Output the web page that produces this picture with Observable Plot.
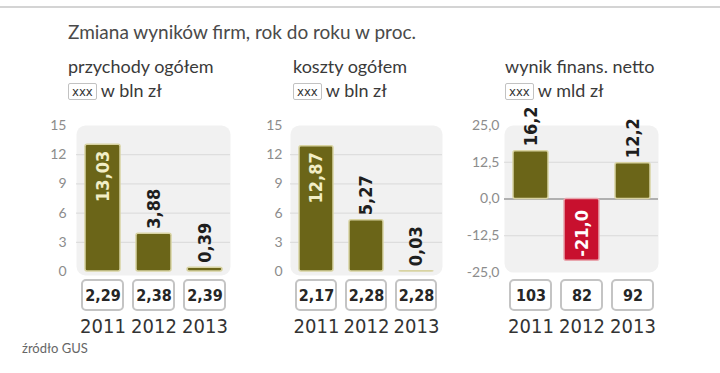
<!DOCTYPE html>
<html><head><meta charset="utf-8">
<script src="https://cdn.jsdelivr.net/npm/d3@7"></script>
<script src="https://cdn.jsdelivr.net/npm/@observablehq/plot@0.6"></script>
<style>
html,body{margin:0;padding:0;background:#fff;}
body{width:720px;height:373px;position:relative;overflow:hidden;font-family:Lato,"Open Sans",sans-serif;}
#topline{position:absolute;left:0;top:6px;width:720px;height:2px;background:#d4d4d4;}
#title{position:absolute;left:68px;top:22px;font-size:19px;line-height:19px;color:#4a4a4a;white-space:nowrap;}
.head{position:absolute;top:54px;font-size:18px;line-height:24px;color:#3a3a3a;white-space:nowrap;}
.xxx{display:inline-block;font-family:"DejaVu Sans Condensed","DejaVu Sans",sans-serif;font-size:13px;line-height:15px;border:1.5px solid #c2c2c2;border-radius:2px;padding:0 3px;margin-right:4px;vertical-align:1px;color:#333;}
.panel{position:absolute;top:95px;}
#source{position:absolute;left:22px;top:342px;font-size:13px;line-height:13px;color:#666;white-space:nowrap;}
</style></head><body>
<div id="topline"></div>
<div id="title"></div>
<div id="heads"></div>
<div id="p0" class="panel"></div>
<div id="p1" class="panel"></div>
<div id="p2" class="panel"></div>
<div id="source"></div>
<script>
// ---- data ----
const chartTitle = "Zmiana wyników firm, rok do roku w proc.";
const sourceText = "źródło GUS";
const years = ["2011", "2012", "2013"];
const panelTitles = ["przychody ogółem", "koszty ogółem", "wynik finans. netto"];
const panelUnits = ["w bln zł", "w bln zł", "w mld zł"];
const revenueChange = [13.03, 3.88, 0.39];   // % r/r
const revenueTotal = [2.29, 2.38, 2.39];     // bln zł
const costChange = [12.87, 5.27, 0.03];      // % r/r
const costTotal = [2.17, 2.28, 2.28];        // bln zł
const netChange = [16.2, -21.0, 12.2];       // % r/r
const netTotal = [103, 82, 92];              // mld zł
const ticksPct = [0, 3, 6, 9, 12, 15];
const ticksNet = [-25, -12.5, 0, 12.5, 25];

// ---- helpers ----
const comma = (s) => s.replace(".", ",").replace("−", "-");
const f2 = (v) => comma(v.toFixed(2));
const f1 = (v) => comma(v.toFixed(1));
const f0 = (v) => String(v);

document.getElementById("title").textContent = chartTitle;
document.getElementById("source").textContent = sourceText;

const headLeft = [68, 293, 505];
const heads = document.getElementById("heads");
panelTitles.forEach((t, i) => {
  const d = document.createElement("div");
  d.className = "head";
  d.style.left = headLeft[i] + "px";
  d.appendChild(document.createTextNode(t));
  d.appendChild(document.createElement("br"));
  const s = document.createElement("span");
  s.className = "xxx"; s.textContent = "xxx";
  d.appendChild(s);
  d.appendChild(document.createTextNode(panelUnits[i]));
  heads.appendChild(d);
});

const OLIVE = "#6b6518", RED = "#c8102e";
const condensed = "'DejaVu Sans Condensed','Liberation Sans Narrow','DejaVu Sans',sans-serif";

function panel(el, cfg) {
  const data = years.map((year, i) => ({year, value: cfg.values[i], total: cfg.totals[i]}));
  const [lo, hi] = cfg.domain;
  const H = 250, mt = 30, mb = cfg.mb;
  const plotH = H - mt - mb;
  const pxPerUnit = plotH / (hi - lo);
  const inside = (d) => Math.abs(d.value) * pxPerUnit > 55;
  const gridVals = cfg.ticks.filter(t => t !== lo && t !== hi && t !== 0);
  const marks = [
    Plot.frame({fill: "#f1f1f1", stroke: null, rx: 9, insetBottom: cfg.bgExtend}),
    Plot.ruleY(gridVals, {stroke: "#d9d9d9", strokeWidth: 1}),
  ];
  if (lo < 0) marks.push(Plot.ruleY([0], {stroke: "#9a9a9a", strokeWidth: 1.5}));
  marks.push(
    Plot.barY(data, {
      x: "year", y: "value",
      fill: d => d.value < 0 ? RED : OLIVE,
      stroke: d => d.value < 0 ? "#e8a6ae" : "#d8d3a2",
      strokeWidth: 1.5, insetLeft: 8, insetRight: 8, rx: 2
    }),
    Plot.text(data.filter(d => !inside(d)), {
      x: "year", y: "value", text: d => cfg.fmt(d.value),
      rotate: -90, textAnchor: "start", dy: -5,
      fill: "#1e1e1e", fontWeight: "bold", fontSize: 18, fontFamily: condensed
    }),
    Plot.text(data.filter(d => inside(d) && d.value >= 0), {
      x: "year", y: "value", text: d => cfg.fmt(d.value),
      rotate: -90, textAnchor: "end", dy: 6,
      fill: "#f2eec6", fontWeight: "bold", fontSize: 18, fontFamily: condensed
    }),
    Plot.text(data.filter(d => inside(d) && d.value < 0), {
      x: "year", y: "value", text: d => cfg.fmt(d.value),
      rotate: -90, textAnchor: "start", dy: -4,
      fill: "#ffffff", fontWeight: "bold", fontSize: 18, fontFamily: condensed
    }),
    Plot.rect(data, {
      x: "year", y1: () => lo, y2: () => lo,
      insetBottom: -30, insetLeft: 5, insetRight: 5, dy: cfg.boxDy,
      fill: "#ffffff", stroke: "#c4c4c4", strokeWidth: 2, rx: 4
    }),
    Plot.text(data, {
      x: "year", y: () => lo, text: d => cfg.totalFmt(d.total),
      dy: cfg.boxDy + 15, lineAnchor: "middle",
      fill: "#262626", fontSize: 16, fontWeight: "bold", fontFamily: condensed
    }),
    Plot.text(data, {
      x: "year", y: () => lo, text: "year",
      dy: cfg.boxDy + 46, lineAnchor: "middle",
      fill: "#333333", fontSize: 20, fontFamily: condensed
    })
  );
  const chart = Plot.plot({
    width: cfg.width, height: H,
    marginTop: mt, marginBottom: mb, marginLeft: 40, marginRight: 6,
    style: {background: "transparent", color: "#8c8c8c", fontSize: "14px", fontFamily: "Lato, 'Open Sans', sans-serif", overflow: "visible"},
    x: {domain: years, padding: 0, axis: null},
    y: {domain: cfg.domain, ticks: cfg.ticks, tickFormat: cfg.tickFmt, tickSize: 0, tickPadding: cfg.tickPadding, label: null, line: false},
    color: {type: "identity"},
    marks
  });
  el.style.left = cfg.left + "px";
  el.appendChild(chart);
}

panel(document.getElementById("p0"), {
  left: 36, width: 200, values: revenueChange, totals: revenueTotal,
  domain: [0, 15], ticks: ticksPct, tickFmt: d => String(d), tickPadding: 10,
  fmt: f2, totalFmt: f2, mb: 74, bgExtend: -4, boxDy: 9
});
panel(document.getElementById("p1"), {
  left: 250, width: 198, values: costChange, totals: costTotal,
  domain: [0, 15], ticks: ticksPct, tickFmt: d => String(d), tickPadding: 8,
  fmt: f2, totalFmt: f2, mb: 74, bgExtend: -4, boxDy: 9
});
panel(document.getElementById("p2"), {
  left: 464, width: 200, values: netChange, totals: netTotal,
  domain: [-25, 25], ticks: ticksNet, tickFmt: d => f1(d), tickPadding: 5,
  fmt: f1, totalFmt: f0, mb: 73, bgExtend: 0, boxDy: 8
});
</script>
</body></html>
